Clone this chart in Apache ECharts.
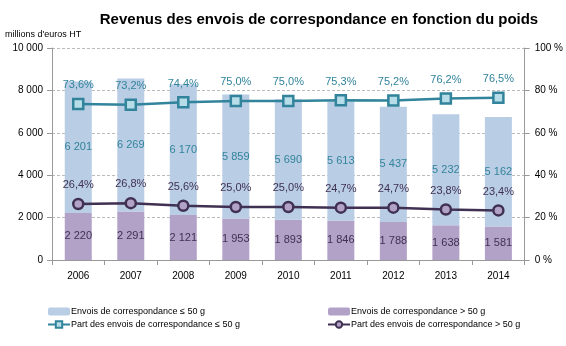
<!DOCTYPE html>
<html><head><meta charset="utf-8">
<script src="https://cdn.jsdelivr.net/npm/echarts@6/dist/echarts.min.js"></script>
<style>html,body{margin:0;padding:0;background:#fff}#c{width:566px;height:346px}</style>
</head><body><div id="c"></div>
<script>
const years = ['2006','2007','2008','2009','2010','2011','2012','2013','2014'];
const light = [6201, 6269, 6170, 5859, 5690, 5613, 5437, 5232, 5162];
const heavy = [2220, 2291, 2121, 1953, 1893, 1846, 1788, 1638, 1581];
const shareLight = [73.6, 73.2, 74.4, 75.0, 75.0, 75.3, 75.2, 76.2, 76.5];
const shareHeavy = [26.4, 26.8, 25.6, 25.0, 25.0, 24.7, 24.7, 23.8, 23.4];
const leftTicks = {min: 0, max: 10000, interval: 2000};
const rightTicks = {min: 0, max: 100, interval: 20};

const names = ['Envois de correspondance ≤ 50 g','Envois de correspondance > 50 g',
  'Part des envois de correspondance ≤ 50 g','Part des envois de correspondance > 50 g'];
const F = '"Liberation Sans", Arial, sans-serif';
const thou = v => String(v).replace(/\B(?=(\d{3})+(?!\d))/g, ' ');
const pct = v => v.toFixed(1).replace('.', ',') + '%';

const chart = echarts.init(document.getElementById('c'), null, {renderer: 'canvas'});
chart.setOption({
  animation: false,
  textStyle: {fontFamily: F},
  title: {text: 'Revenus des envois de correspondance en fonction du poids', left: 314, textAlign: 'center', top: 7,
    textStyle: {fontFamily: F, fontSize: 15, fontWeight: 'bold', color: '#000'}},
  graphic: [{type: 'text', left: 5, top: 30, style: {text: "millions d'euros HT", font: '9px ' + F, fill: '#000'}}],
  grid: {left: 52, right: 39, top: 48, bottom: 86},
  legend: [
    {orient: 'vertical', left: 42, top: 302, itemGap: 4, itemWidth: 22, itemHeight: 8,
     data: [names[0], names[2]], textStyle: {fontSize: 9, color: '#000', fontFamily: F, padding: [0,0,0,-4]}},
    {orient: 'vertical', left: 322, top: 302, itemGap: 4, itemWidth: 22, itemHeight: 8,
     data: [names[1], names[3]], textStyle: {fontSize: 9, color: '#000', fontFamily: F, padding: [0,0,0,-4]}}
  ],
  xAxis: {type: 'category', data: years,
    axisLine: {lineStyle: {color: '#999'}}, axisTick: {show: true, length: 5, lineStyle: {color: '#999'}},
    axisLabel: {color: '#000', fontSize: 10, margin: 11}},
  yAxis: [
    {type: 'value', ...leftTicks, axisLine: {show: true, lineStyle: {color: '#999'}},
     axisTick: {show: true, length: 5, lineStyle: {color: '#999'}},
     axisLabel: {color: '#000', fontSize: 10, margin: 9, formatter: v => thou(v)},
     splitLine: {lineStyle: {color: '#bbb', type: [3, 2]}}},
    {type: 'value', ...rightTicks, position: 'right', axisLine: {show: true, lineStyle: {color: '#999'}},
     axisTick: {show: true, length: 5, lineStyle: {color: '#999'}},
     axisLabel: {color: '#000', fontSize: 10, margin: 10, formatter: '{value} %'},
     splitLine: {show: false}}
  ],
  series: [
    {name: names[1], type: 'bar', stack: 't', data: heavy, barWidth: 27,
     itemStyle: {color: '#B3A2C7'},
     label: {show: true, position: 'inside', color: '#403152', fontSize: 11, formatter: p => thou(p.value)}},
    {name: names[0], type: 'bar', stack: 't', data: light, barWidth: 27,
     itemStyle: {color: '#B9CDE5'},
     label: {show: true, position: 'inside', color: '#31849B', fontSize: 11, formatter: p => thou(p.value)}},
    {name: names[2], type: 'line', yAxisIndex: 1, data: shareLight, symbol: 'rect', symbolSize: 10,
     lineStyle: {color: '#31849B', width: 2.5}, itemStyle: {color: '#B7DEE8', borderColor: '#31849B', borderWidth: 2.5},
     label: {show: true, position: 'top', distance: 7, color: '#31849B', fontSize: 11, formatter: p => pct(p.value)}},
    {name: names[3], type: 'line', yAxisIndex: 1, data: shareHeavy, symbol: 'circle', symbolSize: 10,
     lineStyle: {color: '#403152', width: 2.5}, itemStyle: {color: '#B3A2C7', borderColor: '#403152', borderWidth: 2.5},
     label: {show: true, position: 'top', distance: 7, color: '#403152', fontSize: 11, formatter: p => pct(p.value)}}
  ]
});
</script></body></html>
